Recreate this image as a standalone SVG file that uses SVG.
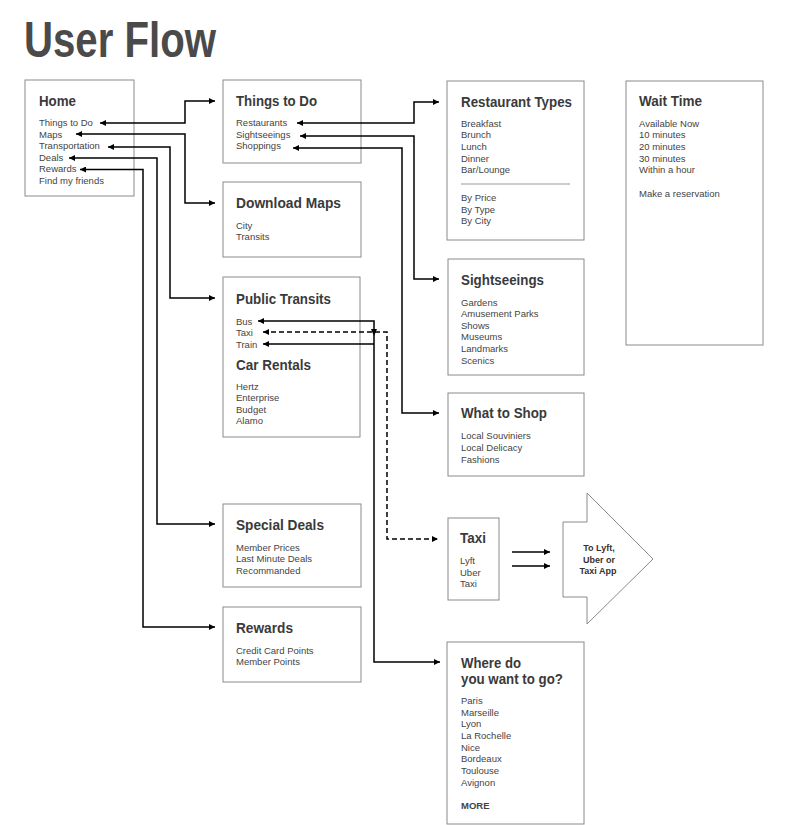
<svg xmlns="http://www.w3.org/2000/svg" width="800" height="825" viewBox="0 0 800 825">
<style>
.box{fill:#fff;stroke:#8a8a8a;stroke-width:1}
.h{font-family:"Liberation Sans",Arial,sans-serif;font-weight:bold;font-size:15.5px;fill:#3a3a3a}
.t{font-family:"Liberation Sans",Arial,sans-serif;font-size:9.5px;fill:#444}
.b{font-family:"Liberation Sans",Arial,sans-serif;font-size:9px;font-weight:bold;fill:#333;text-anchor:middle}
.c{fill:none;stroke:#000;stroke-width:1.5}
.d{fill:none;stroke:#000;stroke-width:1.5;stroke-dasharray:5,3}
</style>
<defs>
<marker id="ah" viewBox="0 0 10 10" refX="10" refY="5" markerWidth="9" markerHeight="6" markerUnits="userSpaceOnUse" orient="auto-start-reverse">
<path d="M0,0 L10,5 L0,10 z" fill="#000"/>
</marker>
</defs>
<rect width="800" height="825" fill="#fff"/>
<text x="24" y="57" font-family="Liberation Sans, Arial, sans-serif" font-weight="bold" font-size="50" fill="#4a4a4a" textLength="192" lengthAdjust="spacingAndGlyphs">User Flow</text>

<g id="home">
<rect class="box" x="25" y="80" width="109" height="116"/>
<text class="h" x="39" y="106" textLength="37" lengthAdjust="spacingAndGlyphs">Home</text>
<text class="t" x="39" y="126">Things to Do</text>
<text class="t" x="39" y="137.6">Maps</text>
<text class="t" x="39" y="149.2">Transportation</text>
<text class="t" x="39" y="160.8">Deals</text>
<text class="t" x="39" y="172.4">Rewards</text>
<text class="t" x="39" y="184">Find my friends</text>
</g>

<g id="things-to-do">
<rect class="box" x="223" y="80" width="138" height="83"/>
<text class="h" x="236" y="106" textLength="81" lengthAdjust="spacingAndGlyphs">Things to Do</text>
<text class="t" x="236" y="126">Restaurants</text>
<text class="t" x="236" y="137.6">Sightseeings</text>
<text class="t" x="236" y="149.2">Shoppings</text>
</g>

<g id="download-maps">
<rect class="box" x="223" y="182" width="138" height="75"/>
<text class="h" x="236" y="208" textLength="105" lengthAdjust="spacingAndGlyphs">Download Maps</text>
<text class="t" x="236" y="228.5">City</text>
<text class="t" x="236" y="240">Transits</text>
</g>

<g id="public-transits">
<rect class="box" x="223" y="277" width="137" height="160"/>
<text class="h" x="236" y="304" textLength="95" lengthAdjust="spacingAndGlyphs">Public Transits</text>
<text class="t" x="236" y="324.5">Bus</text>
<text class="t" x="236" y="336">Taxi</text>
<text class="t" x="236" y="347.5">Train</text>
<text class="h" x="236" y="370" textLength="75" lengthAdjust="spacingAndGlyphs">Car Rentals</text>
<text class="t" x="236" y="389.5">Hertz</text>
<text class="t" x="236" y="401">Enterprise</text>
<text class="t" x="236" y="412.5">Budget</text>
<text class="t" x="236" y="424">Alamo</text>
</g>

<g id="special-deals">
<rect class="box" x="223" y="504" width="138" height="83"/>
<text class="h" x="236" y="530" textLength="88" lengthAdjust="spacingAndGlyphs">Special Deals</text>
<text class="t" x="236" y="550.7">Member Prices</text>
<text class="t" x="236" y="562.3">Last Minute Deals</text>
<text class="t" x="236" y="573.8">Recommanded</text>
</g>

<g id="rewards">
<rect class="box" x="223" y="607" width="138" height="75"/>
<text class="h" x="236" y="633" textLength="57" lengthAdjust="spacingAndGlyphs">Rewards</text>
<text class="t" x="236" y="653.5">Credit Card Points</text>
<text class="t" x="236" y="665.3">Member Points</text>
</g>

<g id="restaurant-types">
<rect class="box" x="447" y="81" width="137" height="159"/>
<text class="h" x="461" y="107" textLength="111" lengthAdjust="spacingAndGlyphs">Restaurant Types</text>
<text class="t" x="461" y="126.7">Breakfast</text>
<text class="t" x="461" y="138.4">Brunch</text>
<text class="t" x="461" y="150">Lunch</text>
<text class="t" x="461" y="161.7">Dinner</text>
<text class="t" x="461" y="173.4">Bar/Lounge</text>
<line x1="461" y1="184" x2="570" y2="184" stroke="#999" stroke-width="1"/>
<text class="t" x="461" y="201">By Price</text>
<text class="t" x="461" y="212.7">By Type</text>
<text class="t" x="461" y="224.4">By City</text>
</g>

<g id="sightseeings">
<rect class="box" x="448" y="259" width="136" height="116"/>
<text class="h" x="461" y="285" textLength="83" lengthAdjust="spacingAndGlyphs">Sightseeings</text>
<text class="t" x="461" y="305.7">Gardens</text>
<text class="t" x="461" y="317.2">Amusement Parks</text>
<text class="t" x="461" y="328.8">Shows</text>
<text class="t" x="461" y="340.4">Museums</text>
<text class="t" x="461" y="352">Landmarks</text>
<text class="t" x="461" y="363.5">Scenics</text>
</g>

<g id="what-to-shop">
<rect class="box" x="448" y="393" width="136" height="83"/>
<text class="h" x="461" y="418" textLength="86" lengthAdjust="spacingAndGlyphs">What to Shop</text>
<text class="t" x="461" y="439">Local Souviniers</text>
<text class="t" x="461" y="450.7">Local Delicacy</text>
<text class="t" x="461" y="462.5">Fashions</text>
</g>

<g id="wait-time">
<rect class="box" x="626" y="81" width="137" height="264"/>
<text class="h" x="639" y="106" textLength="63" lengthAdjust="spacingAndGlyphs">Wait Time</text>
<text class="t" x="639" y="126.7">Available Now</text>
<text class="t" x="639" y="138.4">10 minutes</text>
<text class="t" x="639" y="150">20 minutes</text>
<text class="t" x="639" y="161.7">30 minutes</text>
<text class="t" x="639" y="173.4">Within a hour</text>
<text class="t" x="639" y="196.7">Make a reservation</text>
</g>

<g id="taxi">
<rect class="box" x="448" y="518" width="51" height="82"/>
<text class="h" x="460" y="543" textLength="26" lengthAdjust="spacingAndGlyphs">Taxi</text>
<text class="t" x="460" y="564.4">Lyft</text>
<text class="t" x="460" y="575.6">Uber</text>
<text class="t" x="460" y="587">Taxi</text>
</g>

<g id="to-app">
<polygon class="box" points="563,522 587,522 587,493 653,559 587,624 587,597 563,597"/>
<text class="b" x="599" y="551">To Lyft,</text>
<text class="b" x="599" y="562.6">Uber or</text>
<text class="b" x="598" y="574">Taxi App</text>
</g>

<g id="where">
<rect class="box" x="447" y="642" width="137" height="182"/>
<text class="h" x="461" y="668" textLength="60" lengthAdjust="spacingAndGlyphs">Where do</text>
<text class="h" x="461" y="684" textLength="102" lengthAdjust="spacingAndGlyphs">you want to go?</text>
<text class="t" x="461" y="704">Paris</text>
<text class="t" x="461" y="715.7">Marseille</text>
<text class="t" x="461" y="727.4">Lyon</text>
<text class="t" x="461" y="739">La Rochelle</text>
<text class="t" x="461" y="750.7">Nice</text>
<text class="t" x="461" y="762.4">Bordeaux</text>
<text class="t" x="461" y="774">Toulouse</text>
<text class="t" x="461" y="785.7">Avignon</text>
<text class="t" x="461" y="809" font-weight="bold">MORE</text>
</g>

<g id="connectors">
<path class="c" d="M100,123 H185 V101 H215" marker-start="url(#ah)" marker-end="url(#ah)"/>
<path class="c" d="M76,134 H185 V203 H215" marker-start="url(#ah)" marker-end="url(#ah)"/>
<path class="c" d="M108,147 H170 V298 H215" marker-start="url(#ah)" marker-end="url(#ah)"/>
<path class="c" d="M69,158 H157 V524 H215" marker-start="url(#ah)" marker-end="url(#ah)"/>
<path class="c" d="M80,169.5 H143 V627 H215" marker-start="url(#ah)" marker-end="url(#ah)"/>
<path class="c" d="M297,123 H414 V102 H439" marker-start="url(#ah)" marker-end="url(#ah)"/>
<path class="c" d="M300,136 H414 V279 H439" marker-start="url(#ah)" marker-end="url(#ah)"/>
<path class="c" d="M293,148 H402 V413 H439" marker-start="url(#ah)" marker-end="url(#ah)"/>
<path class="c" d="M258,321 H374 V662 H440" marker-start="url(#ah)" marker-end="url(#ah)"/>
<path class="c" d="M263,344 H374" marker-start="url(#ah)"/>
<path class="d" d="M263,332 H387 V539 H438" marker-start="url(#ah)" marker-end="url(#ah)"/>
<path d="M371,329 L377,329 L374,336 z" fill="#000"/>
<path class="c" d="M512,552 H550" marker-end="url(#ah)"/>
<path class="c" d="M512,566 H550" marker-end="url(#ah)"/>
</g>
</svg>
